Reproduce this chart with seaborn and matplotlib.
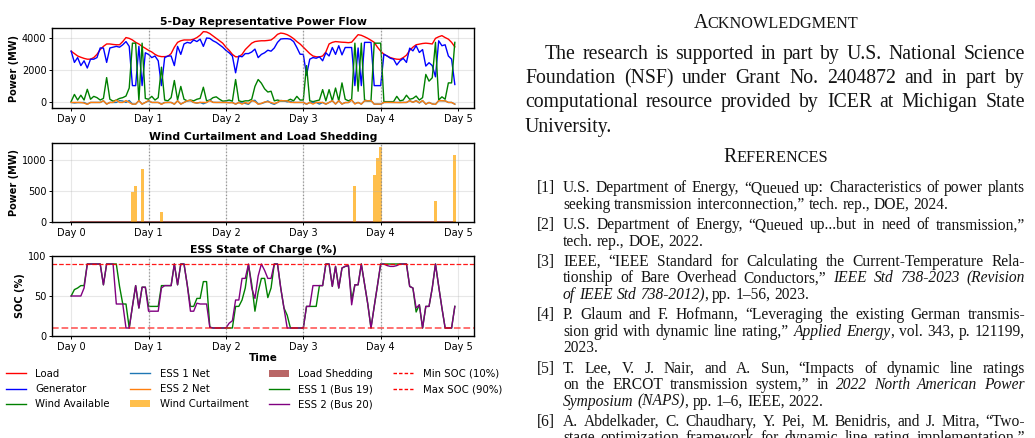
import numpy as np
import pandas as pd
import seaborn as sns
import matplotlib.pyplot as plt
from matplotlib.transforms import Affine2D
from matplotlib.lines import Line2D
from matplotlib.patches import Patch

# ---------------- data (hourly, 5 days) ----------------
hours = list(range(120))
day_ticks = [0, 24, 48, 72, 96, 120]
day_labels = ["Day 0", "Day 1", "Day 2", "Day 3", "Day 4", "Day 5"]

load_mw = [
    3200, 3050, 2900, 2820, 2750, 2700, 2700, 2800, 3000, 3300, 3500, 3650, 3650, 3620, 3600, 3600, 3800, 4050, 4000, 3900, 3750, 3650, 3500, 3380,
    3250, 3150, 3000, 2900, 2860, 2860, 2880, 3050, 3450, 3750, 3850, 3900, 3900, 3900, 3950, 4050, 4200, 4420, 4400, 4300, 4150, 4000, 3850, 3700,
    3450, 3250, 3000, 2850, 2850, 3000, 3300, 3500, 3700, 3800, 3830, 3850, 3850, 3870, 3900, 4050, 4250, 4330, 4300, 4230, 4120, 3980, 3800, 3650,
    3450, 3250, 3050, 2900, 2850, 2840, 2900, 3150, 3650, 3750, 3800, 3780, 3760, 3750, 3730, 3760, 4000, 4230, 4190, 4100, 4000, 3880, 3750, 3450,
    3200, 3010, 2900, 2800, 2740, 2700, 2690, 2800, 2950, 3250, 3450, 3600, 3640, 3680, 3700, 3680, 3650, 4000, 4100, 4170, 4050, 3950, 3750, 3470,
]
generator_mw = [
    3200, 2500, 2800, 2300, 2600, 2150, 2700, 2700, 2800, 3400, 3400, 2500, 3400, 3450, 3500, 3450, 3600, 3800, 3500, 1050, 1050, 3500, 1050, 3100,
    3000, 2800, 2900, 2600, 1050, 2800, 2900, 2900, 2300, 3500, 3000, 3650, 3750, 3700, 3900, 3800, 3950, 3500, 4020, 4000, 3850, 3750, 3600, 3450,
    3250, 3100, 2900, 1850, 2900, 2850, 3050, 3050, 3150, 3330, 2800, 3000, 3100, 3260, 3200, 3400, 3750, 3960, 3980, 3980, 3950, 3800, 3430, 3010,
    3000, 1700, 2700, 2800, 2760, 2850, 2600, 3100, 2900, 3430, 3000, 3540, 2970, 3430, 3430, 3430, 1050, 3400, 1050, 3750, 3750, 3750, 1050, 1050,
    1050, 3010, 2900, 2760, 2700, 2340, 2600, 2750, 2500, 3390, 3220, 3540, 3120, 3300, 2270, 2480, 2300, 1600, 3850, 3540, 3600, 2900, 2700, 1120,
]
wind_mw = [
    60, 500, 150, 450, 150, 820, 200, 380, 300, 150, 250, 1550, 200, 80, 150, 250, 300, 400, 900, 3700, 3700, 100, 3700, 250,
    200, 380, 150, 300, 2200, 150, 100, 300, 1370, 150, 1000, 200, 100, 150, 100, 200, 250, 950, 100, 150, 300, 350, 200, 80,
    100, 150, 80, 1430, 100, 50, 100, 100, 200, 1000, 1430, 1200, 850, 650, 700, 100, 150, 100, 100, 100, 200, 100, 380, 150,
    150, 2300, 100, 50, 100, 150, 800, 100, 800, 100, 900, 100, 1220, 200, 100, 200, 3700, 700, 3700, 150, 100, 100, 3700, 3700,
    3700, 50, 50, 50, 50, 380, 100, 150, 450, 200, 250, 400, 150, 300, 1750, 1330, 1540, 3750, 150, 350, 200, 1220, 1220, 3750,
]
ess1_net_mw = [
    0, -32, -8, -12, 0, -108, 0, 0, 0, 0, 104, -104, 0, 0, 0, 112, 88, 0, 120, -108, -104, 112, -104, 0,
    96, 0, 0, 0, -104, 0, 0, 0, -108, 104, -104, 0, 104, 108, 0, -40, 0, -84, 0, 150, 4, 0, 0, 0,
    0, 0, 0, -108, 0, -32, -60, -116, 96, 136, -96, -68, 0, 96, -48, -120, 0, 120, 100, 36, 64, 0, 0, 0,
    0, -108, 0, 0, 0, -104, 0, -108, 0, 112, -100, 108, -100, -8, -4, 150, -76, 0, -104, 100, 100, 120, -108, -104,
    -108, 0, 0, 0, 0, 0, 0, 0, 0, 112, 8, 120, -36, 116, -108, 0, -92, -120, 112, 108, 100, 0, 0, -108,
]
ess2_net_mw = [
    0, 0, 0, 0, -40, -120, 0, 0, 0, 0, 104, -104, 0, 0, 150, 0, 0, 120, 0, -108, -104, 112, -104, 0,
    120, 0, 0, 0, -116, -12, 0, 0, -108, 104, -104, 0, 104, 132, 0, -40, 4, 0, 0, 116, 4, 0, 0, 0,
    0, -24, -12, -104, 0, -108, 0, -72, 120, 52, -112, -60, 32, 40, 0, -72, 0, 120, 100, 100, 0, 0, 0, 0,
    0, -108, 0, -104, 0, 0, 0, -108, 0, 112, -100, 108, -100, -8, -4, 150, -100, 0, -104, 100, 100, 120, -108, -104,
    -108, 0, 8, 4, 0, -4, -8, 0, 0, 112, 8, 100, -16, 116, -108, 0, -92, -120, 112, 108, 100, 0, 0, -108,
]
soc1_pct = [
    50, 58, 60, 63, 63, 90, 90, 90, 90, 90, 64, 90, 90, 90, 90, 62, 40, 40, 10, 37, 63, 35, 61, 61,
    37, 37, 37, 37, 63, 63, 63, 63, 90, 64, 90, 90, 64, 37, 37, 47, 47, 68, 68, 11, 10, 10, 10, 10,
    10, 10, 10, 37, 37, 45, 60, 89, 65, 31, 55, 72, 72, 48, 60, 90, 90, 60, 35, 26, 10, 10, 10, 10,
    10, 37, 37, 37, 37, 63, 63, 90, 90, 62, 87, 60, 85, 87, 88, 45, 64, 64, 90, 65, 40, 10, 37, 63,
    90, 90, 90, 90, 90, 90, 90, 90, 90, 62, 60, 30, 39, 10, 37, 37, 60, 90, 62, 35, 10, 10, 10, 37,
]
soc2_pct = [
    50, 50, 50, 50, 60, 90, 90, 90, 90, 90, 64, 90, 90, 90, 40, 40, 40, 10, 10, 37, 63, 35, 61, 61,
    31, 31, 31, 31, 60, 63, 63, 63, 90, 64, 90, 90, 64, 31, 31, 41, 40, 40, 40, 11, 10, 10, 10, 10,
    10, 16, 19, 45, 45, 72, 72, 90, 60, 47, 75, 90, 82, 72, 72, 90, 90, 60, 35, 10, 10, 10, 10, 10,
    10, 37, 37, 63, 63, 63, 63, 90, 90, 62, 87, 60, 85, 87, 88, 39, 64, 64, 90, 65, 40, 10, 37, 63,
    90, 90, 88, 87, 87, 88, 90, 90, 90, 62, 60, 35, 39, 10, 37, 37, 60, 90, 62, 35, 10, 10, 10, 37,
]
curtail_hours = [19, 20, 22, 28, 88, 94, 95, 96, 113, 119]
curtail_mw = [476, 583, 861, 155, 583, 765, 1027, 1214, 332, 1086]
shed_mw = [0] * 120
soc_min, soc_max = 10, 90

df = pd.DataFrame({"hour": hours, "load": load_mw, "gen": generator_mw, "wind": wind_mw,
                   "ess1": ess1_net_mw, "ess2": ess2_net_mw, "soc1": soc1_pct,
                   "soc2": soc2_pct, "shed": shed_mw})

# ---------------- figure ----------------
W, H = 1035, 438
fig = plt.figure(figsize=(W / 100, H / 100), dpi=100)


def rect(x0, y0, x1, y1):
    return [x0 / W, 1 - y1 / H, (x1 - x0) / W, (y1 - y0) / H]


ax1 = fig.add_axes(rect(52, 28, 474, 108))
ax2 = fig.add_axes(rect(52, 143, 474, 222))
ax3 = fig.add_axes(rect(52, 256, 474, 336))

lw = 1.0
sns.lineplot(data=df, x="hour", y="load", ax=ax1, color="red", linewidth=lw)
sns.lineplot(data=df, x="hour", y="gen", ax=ax1, color="blue", linewidth=lw)
sns.lineplot(data=df, x="hour", y="wind", ax=ax1, color="green", linewidth=lw)
sns.lineplot(data=df, x="hour", y="ess1", ax=ax1, color="tab:blue", linewidth=lw)
sns.lineplot(data=df, x="hour", y="ess2", ax=ax1, color="tab:orange", linewidth=lw)
ax1.set_title("5-Day Representative Power Flow", fontsize=7.8, fontweight="bold", pad=2)
ax1.set_ylabel("Power (MW)", fontsize=7, fontweight="bold", labelpad=2)
ax1.set_yticks([0, 2000, 4000])

ax2.fill_between(df["hour"], 0, df["shed"], color="darkred", alpha=0.6, linewidth=1.2)
ax2.bar(curtail_hours, curtail_mw, width=0.9, color="orange", alpha=0.7)
ax2.set_xlim(ax1.get_xlim())
ax2.set_title("Wind Curtailment and Load Shedding", fontsize=7.8, fontweight="bold", pad=2)
ax2.set_ylabel("Power (MW)", fontsize=7, fontweight="bold", labelpad=2)
ax2.set_yticks([0, 500, 1000])

sns.lineplot(data=df, x="hour", y="soc1", ax=ax3, color="green", linewidth=lw)
sns.lineplot(data=df, x="hour", y="soc2", ax=ax3, color="purple", linewidth=lw)
ax3.axhline(soc_min, color="red", linestyle="--", linewidth=1.3, alpha=0.6)
ax3.axhline(soc_max, color="red", linestyle="--", linewidth=0.9, alpha=0.9)
ax3.set_ylim(0, 100)
ax3.set_yticks([0, 50, 100])
ax3.set_title("ESS State of Charge (%)", fontsize=7.8, fontweight="bold", pad=2)
ax3.set_ylabel("SOC (%)", fontsize=7, fontweight="bold", labelpad=2)
ax3.set_xlabel("Time", fontsize=7.5, fontweight="bold", labelpad=1)

for ax in (ax1, ax2, ax3):
    ax.set_xticks(day_ticks)
    ax.set_xticklabels(day_labels)
    if ax is not ax3:
        ax.set_xlabel("")
    ax.tick_params(labelsize=7, length=2.5, width=0.7, pad=1.5)
    ax.grid(True, alpha=0.3)
    for d in day_ticks[1:-1]:
        ax.axvline(d, color="gray", linestyle=":", linewidth=0.9, alpha=0.8)
    for s in ax.spines.values():
        s.set_linewidth(1.0)

handles = [
    Line2D([], [], color="red", lw=lw, label="Load"),
    Line2D([], [], color="blue", lw=lw, label="Generator"),
    Line2D([], [], color="green", lw=lw, label="Wind Available"),
    Line2D([], [], color="tab:blue", lw=lw, label="ESS 1 Net"),
    Line2D([], [], color="tab:orange", lw=lw, label="ESS 2 Net"),
    Patch(facecolor="orange", alpha=0.7, label="Wind Curtailment"),
    Patch(facecolor="darkred", alpha=0.6, label="Load Shedding"),
    Line2D([], [], color="green", lw=lw, label="ESS 1 (Bus 19)"),
    Line2D([], [], color="purple", lw=lw, label="ESS 2 (Bus 20)"),
    Line2D([], [], color="red", lw=1.0, ls=(0, (2.5, 1.5)), label="Min SOC (10%)"),
    Line2D([], [], color="red", lw=1.0, ls=(0, (2.5, 1.5)), label="Max SOC (90%)"),
]
fig.legend(handles=handles, loc="upper left", bbox_to_anchor=(6 / W, 1 - 369 / H),
           ncol=4, frameon=False, fontsize=7.3, handlelength=2.0, handletextpad=0.9,
           columnspacing=2.0, labelspacing=0.5, borderpad=0, borderaxespad=0)

# ---------------- right column text ----------------
px = Affine2D().scale(1, -1).translate(0, H)
renderer = fig.canvas.get_renderer()
serif = "Liberation Serif"
ink = "#141414"


def put(s, x, y, size, italic=False):
    t = fig.text(x, y, s, transform=px, fontsize=size, family=serif, color=ink,
                 style="italic" if italic else "normal", va="baseline", ha="left")
    return t, t.get_window_extent(renderer).width


def parse(line):
    italic = False
    words = []
    for w in line.split(" "):
        pieces, buf = [], ""
        for ch in w:
            if ch == "_":
                if buf:
                    pieces.append((buf, italic))
                buf = ""
                italic = not italic
            else:
                buf += ch
        if buf:
            pieces.append((buf, italic))
        words.append(pieces)
    return words


def space_width(size):
    ta, a = put("x x", 0, -100, size)
    tb, b = put("xx", 0, -100, size)
    ta.remove()
    tb.remove()
    return a - b


def set_line(line, x0, x1, y, size, justify):
    words = parse(line)
    placed = []
    for pieces in words:
        items = []
        width = 0
        for s, it in pieces:
            t, w = put(s, 0, y, size, it)
            items.append((t, w))
            width += w
        placed.append((items, width))
    space = space_width(size)
    total = sum(w for _, w in placed)
    gap = (x1 - x0 - total) / (len(placed) - 1) if justify and len(placed) > 1 else space
    x = x0
    for items, width in placed:
        xx = x
        for t, w in items:
            t.set_x(xx)
            xx += w
        x += width + gap


def small_caps(first, rest, xc, y, big, small):
    t1, w1 = put(first, 0, y, big)
    t2, w2 = put(rest, 0, y, small)
    x0 = xc - (w1 + w2) / 2
    t1.set_x(x0)
    t2.set_x(x0 + w1)


body_size = 14.2
ref_size = 11.2
right_edge = 1025
small_caps("A", "CKNOWLEDGMENT", 776, 28, 14.2, 11.7)
body = [
    ("The research is supported in part by U.S. National Science", 545, True),
    ("Foundation (NSF) under Grant No. 2404872 and in part by", 525, True),
    ("computational resource provided by ICER at Michigan State", 525, True),
    ("University.", 525, False),
]
for i, (txt, x0, just) in enumerate(body):
    set_line(txt, x0, right_edge, 59 + 24.2 * i, body_size, just)

small_caps("R", "EFERENCES", 776, 162.5, 14.2, 11.7)
refs = [
    ("[1]", ["U.S. Department of Energy, “Queued up: Characteristics of power plants",
             "seeking transmission interconnection,” tech. rep., DOE, 2024."]),
    ("[2]", ["U.S. Department of Energy, “Queued up...but in need of transmission,”",
             "tech. rep., DOE, 2022."]),
    ("[3]", ["IEEE, “IEEE Standard for Calculating the Current-Temperature Rela-",
             "tionship of Bare Overhead Conductors,” _IEEE Std 738-2023 (Revision",
             "_of IEEE Std 738-2012)_, pp. 1–56, 2023."]),
    ("[4]", ["P. Glaum and F. Hofmann, “Leveraging the existing German transmis-",
             "sion grid with dynamic line rating,” _Applied Energy_, vol. 343, p. 121199,",
             "2023."]),
    ("[5]", ["T. Lee, V. J. Nair, and A. Sun, “Impacts of dynamic line ratings",
             "on the ERCOT transmission system,” in _2022 North American Power",
             "_Symposium (NAPS)_, pp. 1–6, IEEE, 2022."]),
    ("[6]", ["A. Abdelkader, C. Chaudhary, Y. Pei, M. Benidris, and J. Mitra, “Two-",
             "stage optimization framework for dynamic line rating implementation,”"]),
]
y = 192.5
for k, (lab, lines) in enumerate(refs):
    put(lab, 537, y, ref_size)
    for j, txt in enumerate(lines):
        last = j == len(lines) - 1 and k < len(refs) - 1
        set_line(txt, 563, right_edge, y, ref_size, not last)
        y += 16.6
    y += 3.5

fig.savefig("out.png", dpi=100)
